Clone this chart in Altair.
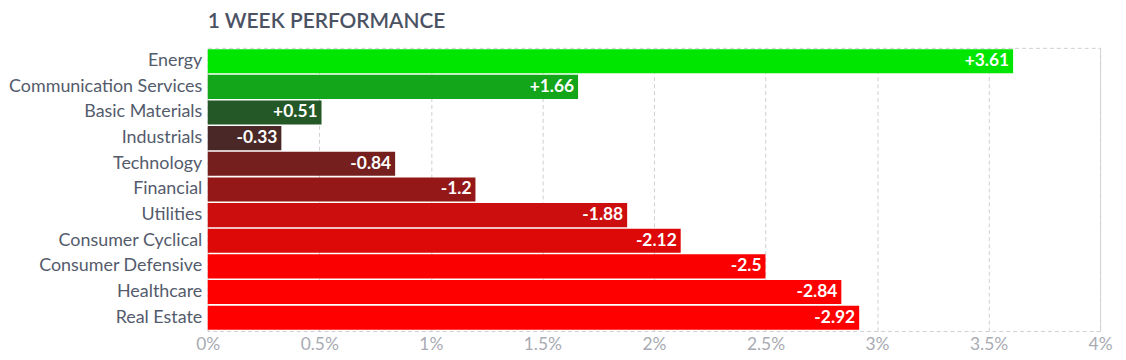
import altair as alt
import pandas as pd

sectors = ["Energy", "Communication Services", "Basic Materials", "Industrials",
           "Technology", "Financial", "Utilities", "Consumer Cyclical",
           "Consumer Defensive", "Healthcare", "Real Estate"]
changes = [3.61, 1.66, 0.51, -0.33, -0.84, -1.2, -1.88, -2.12, -2.5, -2.84, -2.92]
colors = ["#00e600", "#13a51a", "#245826", "#4a2828", "#751f1f", "#951818",
          "#cc0e0e", "#dd0808", "#fb0000", "#ff0000", "#ff0000"]
tick_values = [0, 0.5, 1, 1.5, 2, 2.5, 3, 3.5, 4]

df = pd.DataFrame({
    "sector": sectors,
    "change": changes,
    "size": [abs(v) for v in changes],
    "label": [("+" if v > 0 else "") + f"{v:g}" for v in changes],
    "color": colors,
})

y = alt.Y("sector:N", sort=sectors, title=None,
          scale=alt.Scale(paddingInner=0.06, paddingOuter=0.05),
          axis=alt.Axis(domain=False, ticks=False, labelFont="Lato", labelFontSize=18,
                        labelColor="#545b6c", labelPadding=6, labelLimit=300, grid=False))
x = alt.X("size:Q", title=None,
          scale=alt.Scale(domain=[0, 4], nice=False),
          axis=alt.Axis(values=tick_values, labelExpr="datum.value + '%'",
                        domain=False, ticks=False, labelFont="Lato", labelFontSize=17.5,
                        labelColor="#a9abb3", labelPadding=5, grid=True,
                        gridColor="#cfcfd4", gridDash=[4, 3], gridWidth=1,
                        labelFlush=False))

bars = alt.Chart(df).mark_bar().encode(
    x=x, y=y, color=alt.Color("color:N", scale=None)
)
text = alt.Chart(df).mark_text(align="right", dx=-4, font="Lato", fontWeight="bold",
                               fontSize=17.5, color="white", baseline="middle").encode(
    x="size:Q", y=alt.Y("sector:N", sort=sectors), text="label:N"
)

chart = (bars + text).properties(
    width=898, height=285,
    padding={"left": 0, "top": 2, "right": 5, "bottom": 0},
    title=alt.TitleParams("1 WEEK PERFORMANCE", anchor="start", frame="group",
                          font="Lato", fontSize=21, fontWeight=600, color="#4b5263",
                          offset=16),
).configure_view(stroke="#cfcfd4", strokeDash=[4, 3])

chart.save("out.html", embed_options={"renderer": "svg", "actions": False})
